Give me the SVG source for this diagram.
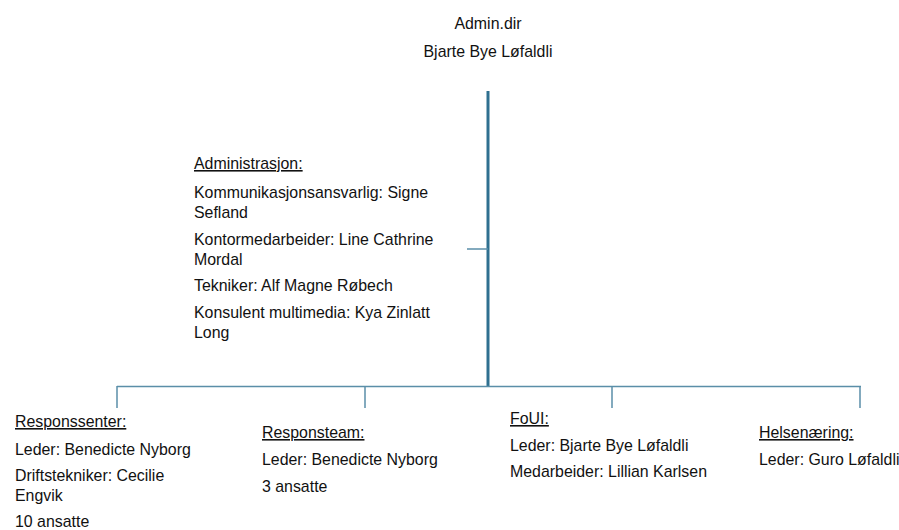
<svg xmlns="http://www.w3.org/2000/svg" width="899" height="530" viewBox="0 0 899 530">
<style>
text{font-family:"Liberation Sans","Noto Sans",Arial,sans-serif;font-size:15.9px;fill:#111}
.h{text-decoration:underline}
.main{stroke:#2f7090;stroke-width:3;fill:none}
.br{stroke:#5a8ea8;stroke-width:1.5;fill:none}
</style>
<rect width="899" height="530" fill="#fff"/>
<g id="connectors">
<line class="main" x1="488" y1="91" x2="488" y2="387"/>
<line class="br" x1="467" y1="249" x2="488" y2="249"/>
<line class="br" x1="117" y1="386.5" x2="861" y2="386.5"/>
<line class="br" x1="117" y1="386" x2="117" y2="408"/>
<line class="br" x1="365" y1="386" x2="365" y2="408"/>
<line class="br" x1="612" y1="386" x2="612" y2="408"/>
<line class="br" x1="860" y1="386" x2="860" y2="408"/>
</g>
<g id="admin-dir">
<text x="488" y="29" text-anchor="middle">Admin.dir</text>
<text x="488" y="57" text-anchor="middle">Bjarte Bye Løfaldli</text>
</g>
<g id="administrasjon">
<text x="194" y="169" class="h">Administrasjon:</text>
<text x="194" y="198">Kommunikasjonsansvarlig: Signe</text>
<text x="194" y="218">Sefland</text>
<text x="194" y="245">Kontormedarbeider: Line Cathrine</text>
<text x="194" y="265">Mordal</text>
<text x="194" y="291">Tekniker: Alf Magne Røbech</text>
<text x="194" y="318">Konsulent multimedia: Kya Zinlatt</text>
<text x="194" y="338">Long</text>
</g>
<g id="responssenter">
<text x="15" y="427" class="h">Responssenter:</text>
<text x="15" y="455">Leder: Benedicte Nyborg</text>
<text x="15" y="481">Driftstekniker: Cecilie</text>
<text x="15" y="501">Engvik</text>
<text x="15" y="527">10 ansatte</text>
</g>
<g id="responsteam">
<text x="262" y="438" class="h">Responsteam:</text>
<text x="262" y="465">Leder: Benedicte Nyborg</text>
<text x="262" y="492">3 ansatte</text>
</g>
<g id="foui">
<text x="510" y="424" class="h">FoUI:</text>
<text x="510" y="451">Leder: Bjarte Bye Løfaldli</text>
<text x="510" y="477">Medarbeider: Lillian Karlsen</text>
</g>
<g id="helsenaering">
<text x="759" y="438" class="h">Helsenæring:</text>
<text x="759" y="465">Leder: Guro Løfaldli</text>
</g>
</svg>
